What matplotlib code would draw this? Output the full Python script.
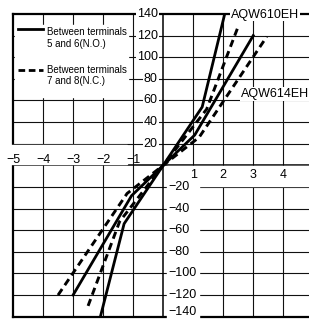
# plot.py - relay load current vs voltage, AQW610EH / AQW614EH
import matplotlib
matplotlib.use("Agg")
import matplotlib.pyplot as plt
from matplotlib.patches import Rectangle

plt.rcParams['font.family'] = ['Liberation Sans', 'DejaVu Sans']

MINUS = '\u2212'

# data (voltage V, current mA)
x_610_no = [-2.09, -1.3, 0, 1.3, 2.05]
y_610_no = [-140, -54, 0, 54, 140]
x_610_nc = [-2.5, -1.45, 0, 1.45, 2.52]
y_610_nc = [-130, -52, 0, 52, 130]
x_614_no = [-3.0, -1.05, 0, 1.05, 3.0]
y_614_no = [-120, -28, 0, 28, 120]
x_614_nc = [-3.5, -1.2, 0, 1.2, 3.45]
y_614_nc = [-120, -26, 0, 26, 119]

x_ticks_neg = [-5, -4, -3, -2, -1]
x_ticks_pos = [1, 2, 3, 4]
y_ticks_pos = [20, 40, 60, 80, 100, 120, 140]
y_ticks_neg = [-20, -40, -60, -80, -100, -120, -140]

legend_labels = ['Between terminals\n5 and 6(N.O.)', 'Between terminals\n7 and 8(N.C.)']

fig = plt.figure(figsize=(3.09, 3.20), dpi=100)
ax = fig.add_axes([13 / 309, 3.3 / 320, 300.3 / 309, 302.7 / 320])
ax.set_xlim(-5, 5)
ax.set_ylim(-140, 140)
ax.set_axis_off()

# grid
for xv in [-4, -3, -2, -1, 1, 2, 3, 4]:
    ax.axvline(xv, color='#111111', lw=0.8, zorder=0.5)
for yv in [-120, -100, -80, -60, -40, -20, 20, 40, 60, 80, 100, 120]:
    ax.axhline(yv, color='#111111', lw=0.8, zorder=0.5)

# frame (left, top, bottom) and the two axes
ax.axvline(-5, color='black', lw=1.6, zorder=0.6, clip_on=False)
ax.axhline(140, color='black', lw=1.6, zorder=0.6, clip_on=False)
ax.axhline(-140, color='black', lw=1.6, zorder=0.6, clip_on=False)
ax.axvline(0, color='black', lw=1.1, zorder=0.7)
ax.axhline(0, color='black', lw=1.1, zorder=0.7)

# white bands where the tick labels sit
ax.add_patch(Rectangle((-5.4, 0.9), 4.2, 18.2, color='white', zorder=1, clip_on=False))
ax.add_patch(Rectangle((0.12, -19.1), 5.2, 18.2, color='white', zorder=1, clip_on=False))
ax.add_patch(Rectangle((0.12, -145), 1.09, 126, color='white', zorder=1, clip_on=False))

# curves
ax.plot(x_610_no, y_610_no, color='black', lw=2.0, zorder=2)
ax.plot(x_610_nc, y_610_nc, color='black', lw=2.1, ls=(0, (2.5, 1.6)), zorder=2)
ax.plot(x_614_no, y_614_no, color='black', lw=2.0, zorder=2)
ax.plot(x_614_nc, y_614_nc, color='black', lw=2.1, ls=(0, (2.5, 1.6)), zorder=2)

# tick labels
box = dict(facecolor='white', edgecolor='none', pad=0.6)
for v in x_ticks_neg:
    ax.text(v, 1.8, MINUS + str(-v), ha='center', va='baseline', fontsize=9, zorder=3, clip_on=False)
for v in x_ticks_pos:
    ax.text(v, -3.5, str(v), ha='center', va='top', fontsize=9, zorder=3)
for v in y_ticks_pos:
    ax.text(-0.18, v, str(v), ha='right', va='center', fontsize=9, bbox=box, zorder=3)
for v in y_ticks_neg:
    # bottom label nudged up a little so it stays inside the picture
    ax.text(0.17, max(v, -136), MINUS + str(-v), ha='left', va='center', fontsize=9, bbox=box, zorder=3, clip_on=False)

# curve names
ax.text(2.26, 139.5, 'AQW610EH', ha='left', va='center', fontsize=9, bbox=box, zorder=3)
ax.text(2.6, 66, 'AQW614EH', ha='left', va='center', fontsize=9, bbox=box, zorder=3)

# legend drawn by hand in the top-left corner
ax.add_patch(Rectangle((-4.93, 63), 3.76, 67, color='white', zorder=2.5))
ax.plot([-4.83, -4.0], [126.5, 126.5], color='black', lw=2.0, zorder=3)
ax.plot([-4.83, -4.0], [88.5, 88.5], color='black', lw=2.0, ls=(0, (2.4, 1.3)), zorder=3)
ax.text(-3.87, 118, legend_labels[0], ha='left', va='center', fontsize=7, zorder=3)
ax.text(-3.87, 83, legend_labels[1], ha='left', va='center', fontsize=7, zorder=3)

fig.savefig('out.png', dpi=100)
